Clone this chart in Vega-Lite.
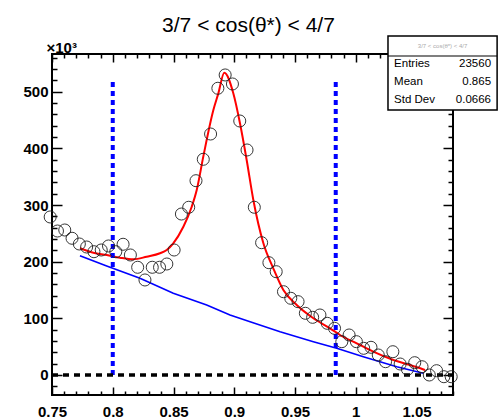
{
  "$schema": "https://vega.github.io/schema/vega-lite/v6.json",
  "width": 401,
  "height": 341,
  "autosize": "none",
  "padding": {"left": 52, "top": 54, "right": 47, "bottom": 23},
  "background": "white",
  "title": {"text": "3/7 < cos(θ*) < 4/7", "font": "Liberation Sans", "fontSize": 21, "fontWeight": "normal", "color": "#000", "anchor": "middle", "dx": -4, "offset": -18, "baseline": "alphabetic"},
  "config": {
    "view": {"stroke": "#000", "strokeWidth": 2},
    "axis": {"grid": false, "domain": false, "tickColor": "#000", "labelColor": "#000", "labelFont": "Liberation Sans", "labelFontWeight": "bold", "labelFontSize": 15, "labelFlush": false, "labelOverlap": false}
  },
  "datasets": {
    "points": [
      {"x": 0.7485, "y": 278.9}, {"x": 0.7545, "y": 254.1}, {"x": 0.7605, "y": 255.9}, {"x": 0.7665, "y": 241.3},
      {"x": 0.7725, "y": 231.2}, {"x": 0.7785, "y": 225.9}, {"x": 0.7845, "y": 217.6}, {"x": 0.7905, "y": 220.6},
      {"x": 0.7965, "y": 227.7}, {"x": 0.8025, "y": 217.6}, {"x": 0.8085, "y": 230.7}, {"x": 0.8145, "y": 211.8},
      {"x": 0.8205, "y": 190.1}, {"x": 0.8265, "y": 167.7}, {"x": 0.8325, "y": 190.1}, {"x": 0.8385, "y": 190.1},
      {"x": 0.8445, "y": 195.9}, {"x": 0.8505, "y": 220.6}, {"x": 0.8565, "y": 284.1}, {"x": 0.8625, "y": 296.0},
      {"x": 0.8685, "y": 342.9}, {"x": 0.8745, "y": 380.7}, {"x": 0.8805, "y": 425.3}, {"x": 0.8865, "y": 506.0},
      {"x": 0.8925, "y": 529.5}, {"x": 0.8985, "y": 513.6}, {"x": 0.9045, "y": 448.3}, {"x": 0.9105, "y": 397.1},
      {"x": 0.9165, "y": 296.0}, {"x": 0.9225, "y": 233.5}, {"x": 0.9285, "y": 198.2}, {"x": 0.9345, "y": 182.3},
      {"x": 0.9405, "y": 147.0}, {"x": 0.9465, "y": 135.4}, {"x": 0.9525, "y": 129.4}, {"x": 0.9585, "y": 108.9},
      {"x": 0.9645, "y": 101.8}, {"x": 0.9705, "y": 105.9}, {"x": 0.9765, "y": 91.2}, {"x": 0.9825, "y": 82.4},
      {"x": 0.9885, "y": 58.8}, {"x": 0.9945, "y": 70.6}, {"x": 1.0005, "y": 58.8}, {"x": 1.0065, "y": 47.1},
      {"x": 1.0125, "y": 48.9}, {"x": 1.0185, "y": 35.3}, {"x": 1.0245, "y": 23.5}, {"x": 1.0305, "y": 41.1},
      {"x": 1.0365, "y": 19.4}, {"x": 1.0425, "y": 10.1}, {"x": 1.0485, "y": 21.7}, {"x": 1.0545, "y": 14.6},
      {"x": 1.0605, "y": 0.0}, {"x": 1.0665, "y": 7.6}, {"x": 1.0725, "y": -3.0}, {"x": 1.0785, "y": -3.0}
    ],
    "fit": [
      {"x": 0.7730, "y": 223.6}, {"x": 0.7840, "y": 215.8}, {"x": 0.7950, "y": 211.8}, {"x": 0.8060, "y": 207.0},
      {"x": 0.8169, "y": 204.2}, {"x": 0.8279, "y": 208.8}, {"x": 0.8389, "y": 214.8}, {"x": 0.8444, "y": 220.6},
      {"x": 0.8498, "y": 232.4}, {"x": 0.8581, "y": 261.7}, {"x": 0.8650, "y": 297.0}, {"x": 0.8691, "y": 326.5},
      {"x": 0.8745, "y": 385.3}, {"x": 0.8828, "y": 467.7}, {"x": 0.8869, "y": 497.0}, {"x": 0.8918, "y": 533.5},
      {"x": 0.8992, "y": 497.2}, {"x": 0.9047, "y": 444.2}, {"x": 0.9102, "y": 379.5}, {"x": 0.9157, "y": 308.9},
      {"x": 0.9239, "y": 233.0}, {"x": 0.9321, "y": 188.3}, {"x": 0.9404, "y": 150.0}, {"x": 0.9514, "y": 123.5},
      {"x": 0.9651, "y": 100.1}, {"x": 0.9788, "y": 82.4}, {"x": 0.9870, "y": 70.6}, {"x": 1.0008, "y": 55.9},
      {"x": 1.0144, "y": 41.1}, {"x": 1.0309, "y": 26.5}, {"x": 1.0447, "y": 17.6}, {"x": 1.0570, "y": 8.8}
    ],
    "background": [
      {"x": 0.7730, "y": 210.6}, {"x": 0.7950, "y": 192.4}, {"x": 0.8224, "y": 170.7}, {"x": 0.8498, "y": 144.2},
      {"x": 0.8773, "y": 123.5}, {"x": 0.8965, "y": 105.9}, {"x": 0.9130, "y": 94.1}, {"x": 0.9377, "y": 76.4},
      {"x": 0.9651, "y": 58.8}, {"x": 0.9843, "y": 47.1}, {"x": 1.0062, "y": 32.3}, {"x": 1.0337, "y": 14.6},
      {"x": 1.0556, "y": 3.0}
    ],
    "cuts": [{"cut": 0.8}, {"cut": 0.9835}],
    "stats": [{"name": "3/7 < cos(θ*) < 4/7", "labels": "Entries\nMean\nStd Dev", "values": "23560\n0.865\n0.0666"}]
  },
  "layer": [
    {
      "data": {"name": "background"},
      "mark": {"type": "line", "color": "#0000ff", "strokeWidth": 1.6},
      "encoding": {
        "x": {"field": "x", "type": "quantitative", "scale": {"domain": [0.75, 1.08], "nice": false, "zero": false},
              "axis": {"orient": "top", "values": [0.75, 0.8, 0.85, 0.9, 0.95, 1, 1.05], "labels": false, "tickSize": -8, "tickWidth": 1.5, "title": null}},
        "y": {"field": "y", "type": "quantitative", "scale": {"domain": [-35.3, 566.5], "nice": false, "zero": false},
              "axis": {"orient": "right", "values": [0, 100, 200, 300, 400, 500], "labels": false, "tickSize": -10, "tickWidth": 1.5, "title": null}}
      }
    },
    {
      "data": {"name": "fit"},
      "mark": {"type": "line", "color": "#ff0000", "strokeWidth": 2, "interpolate": "monotone"},
      "encoding": {
        "x": {"field": "x", "type": "quantitative",
              "axis": {"orient": "top", "values": [0.76, 0.77, 0.78, 0.79, 0.81, 0.82, 0.83, 0.84, 0.86, 0.87, 0.88, 0.89, 0.91, 0.92, 0.93, 0.94, 0.96, 0.97, 0.98, 0.99, 1.01, 1.02, 1.03, 1.04, 1.06, 1.07, 1.08], "labels": false, "tickSize": -4, "tickWidth": 1.5, "title": null}},
        "y": {"field": "y", "type": "quantitative",
              "axis": {"orient": "right", "values": [-20, 20, 40, 60, 80, 120, 140, 160, 180, 220, 240, 260, 280, 320, 340, 360, 380, 420, 440, 460, 480, 520, 540, 560], "labels": false, "tickSize": -5, "tickWidth": 1.5, "title": null}}
      }
    },
    {
      "data": {"name": "cuts"},
      "mark": {"type": "rule", "color": "#0000ff", "strokeWidth": 4, "strokeDash": [5, 4]},
      "encoding": {
        "x": {"field": "cut", "type": "quantitative",
              "axis": {"orient": "bottom", "values": [0.76, 0.77, 0.78, 0.79, 0.81, 0.82, 0.83, 0.84, 0.86, 0.87, 0.88, 0.89, 0.91, 0.92, 0.93, 0.94, 0.96, 0.97, 0.98, 0.99, 1.01, 1.02, 1.03, 1.04, 1.06, 1.07, 1.08], "labels": false, "tickSize": -4, "tickWidth": 1.5, "title": null}},
        "y": {"datum": 0, "axis": {"orient": "left", "values": [-20, 20, 40, 60, 80, 120, 140, 160, 180, 220, 240, 260, 280, 320, 340, 360, 380, 420, 440, 460, 480, 520, 540, 560], "labels": false, "tickSize": -5, "tickWidth": 1.5, "title": null}},
        "y2": {"datum": 517}
      }
    },
    {
      "data": {"name": "stats"},
      "mark": {"type": "rule", "color": "#000", "strokeWidth": 3.5, "strokeDash": [6, 5]},
      "encoding": {
        "x": {"datum": 0.75, "axis": null},
        "x2": {"datum": 1.08},
        "y": {"datum": 0, "axis": null}
      }
    },
    {
      "data": {"name": "points"},
      "mark": {"type": "point", "shape": "circle", "filled": false, "size": 145, "stroke": "#222", "strokeWidth": 1, "opacity": 0.9},
      "encoding": {
        "x": {"field": "x", "type": "quantitative",
              "axis": {"orient": "bottom", "values": [0.75, 0.8, 0.85, 0.9, 0.95, 1, 1.05], "format": "~g", "tickSize": -8, "tickWidth": 1.5, "labelPadding": 17, "title": null}},
        "y": {"field": "y", "type": "quantitative",
              "axis": {"orient": "left", "values": [0, 100, 200, 300, 400, 500], "format": "d", "tickSize": -10, "tickWidth": 1.5, "labelPadding": 14,
                       "title": "×10³", "titleAngle": 0, "titleAlign": "left", "titleBaseline": "alphabetic", "titleX": -6, "titleY": -2, "titleFont": "Liberation Sans", "titleFontSize": 15, "titleFontWeight": "bold", "titleColor": "#000"}}
      }
    },
    {
      "data": {"name": "stats"},
      "mark": {"type": "rect", "fill": "white", "stroke": "#000", "strokeWidth": 1.5},
      "encoding": {
        "x": {"datum": 1.0265, "axis": null}, "x2": {"datum": 1.1163},
        "y": {"datum": 598.3, "axis": null}, "y2": {"datum": 467.7}
      }
    },
    {
      "data": {"name": "stats"},
      "mark": {"type": "rule", "color": "#000", "strokeWidth": 1.2},
      "encoding": {
        "x": {"datum": 1.0265, "axis": null}, "x2": {"datum": 1.1163},
        "y": {"datum": 563.0, "axis": null}
      }
    },
    {
      "data": {"name": "stats"},
      "mark": {"type": "text", "font": "Liberation Sans", "fontSize": 6, "color": "#aaa", "align": "center", "baseline": "middle"},
      "encoding": {
        "x": {"datum": 1.0714, "axis": null},
        "y": {"datum": 580.9, "axis": null},
        "text": {"field": "name"}
      }
    },
    {
      "data": {"name": "stats"},
      "mark": {"type": "text", "font": "Liberation Sans", "fontSize": 11.5, "color": "#000", "align": "left", "baseline": "middle", "lineBreak": "\n", "lineHeight": 17.8},
      "encoding": {
        "x": {"datum": 1.0315, "axis": null},
        "y": {"datum": 548.4, "axis": null},
        "text": {"field": "labels"}
      }
    },
    {
      "data": {"name": "stats"},
      "mark": {"type": "text", "font": "Liberation Sans", "fontSize": 11.5, "color": "#000", "align": "right", "baseline": "middle", "lineBreak": "\n", "lineHeight": 17.8},
      "encoding": {
        "x": {"datum": 1.1113, "axis": null},
        "y": {"datum": 548.4, "axis": null},
        "text": {"field": "values"}
      }
    }
  ],
  "resolve": {"axis": {"x": "independent", "y": "independent"}}
}
